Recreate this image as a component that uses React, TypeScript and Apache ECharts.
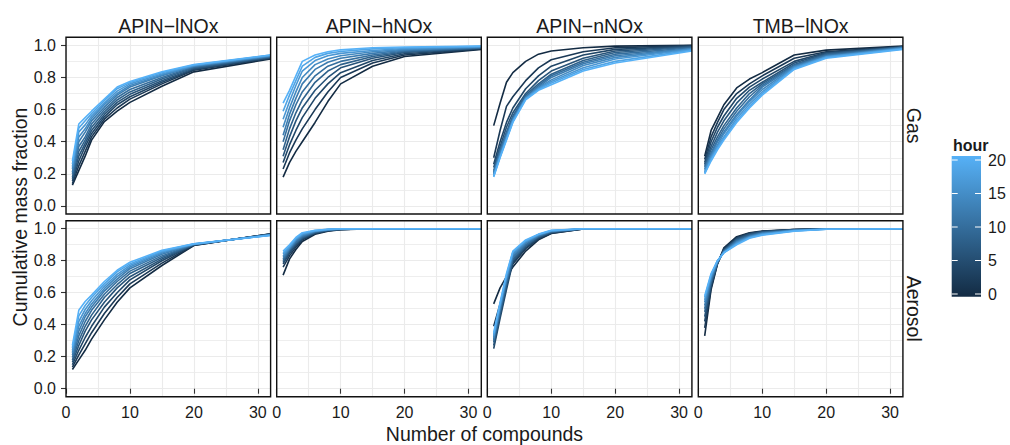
import React, { useEffect, useRef } from 'react';
import * as echarts from 'echarts';

// ---------------- data ----------------
const compounds = [1, 2, 3, 4, 6, 8, 10, 15, 20, 32];
const hours = [0, 2, 4, 6, 8, 10, 12, 14, 16, 18, 20];
const facetCols = ['APIN−lNOx', 'APIN−hNOx', 'APIN−nNOx', 'TMB−lNOx'];
const facetRows = ['Gas', 'Aerosol'];
const xTicks = [0, 10, 20, 30];
const legendTicks = [0, 5, 10, 15, 20];

// rows = hours (0..20 step 2), columns = compounds
const gasApinLNOx = [
  [0.13, 0.22, 0.31, 0.41, 0.525, 0.59, 0.645, 0.745, 0.835, 0.915],
  [0.14, 0.25, 0.34, 0.43, 0.54, 0.61, 0.665, 0.76, 0.845, 0.92],
  [0.155, 0.28, 0.37, 0.45, 0.555, 0.63, 0.68, 0.77, 0.85, 0.922],
  [0.17, 0.31, 0.39, 0.47, 0.57, 0.645, 0.695, 0.78, 0.855, 0.925],
  [0.18, 0.34, 0.41, 0.49, 0.585, 0.66, 0.71, 0.79, 0.86, 0.928],
  [0.2, 0.37, 0.43, 0.51, 0.6, 0.675, 0.725, 0.8, 0.865, 0.93],
  [0.21, 0.4, 0.46, 0.53, 0.615, 0.69, 0.74, 0.81, 0.87, 0.932],
  [0.23, 0.43, 0.48, 0.545, 0.63, 0.7, 0.75, 0.815, 0.872, 0.935],
  [0.245, 0.46, 0.505, 0.56, 0.64, 0.715, 0.76, 0.822, 0.875, 0.937],
  [0.26, 0.485, 0.53, 0.575, 0.655, 0.73, 0.768, 0.83, 0.878, 0.939],
  [0.28, 0.51, 0.55, 0.59, 0.665, 0.74, 0.775, 0.835, 0.88, 0.94],
];
const gasApinHNOx = [
  [0.18, 0.27, 0.34, 0.4, 0.52, 0.65, 0.76, 0.87, 0.93, 0.975],
  [0.23, 0.33, 0.41, 0.48, 0.6, 0.71, 0.8, 0.89, 0.94, 0.978],
  [0.27, 0.38, 0.47, 0.55, 0.67, 0.76, 0.83, 0.905, 0.948, 0.98],
  [0.31, 0.43, 0.53, 0.61, 0.72, 0.8, 0.86, 0.92, 0.955, 0.982],
  [0.35, 0.48, 0.58, 0.66, 0.77, 0.84, 0.88, 0.93, 0.96, 0.984],
  [0.4, 0.53, 0.63, 0.71, 0.81, 0.87, 0.9, 0.94, 0.965, 0.986],
  [0.44, 0.57, 0.67, 0.76, 0.85, 0.895, 0.92, 0.95, 0.97, 0.988],
  [0.49, 0.61, 0.71, 0.8, 0.88, 0.915, 0.935, 0.96, 0.975, 0.99],
  [0.54, 0.65, 0.75, 0.84, 0.905, 0.935, 0.95, 0.968, 0.98, 0.992],
  [0.59, 0.69, 0.78, 0.87, 0.925, 0.95, 0.962, 0.978, 0.985, 0.994],
  [0.64, 0.72, 0.81, 0.9, 0.94, 0.96, 0.972, 0.985, 0.99, 0.995],
];
const gasApinNNOx = [
  [0.5, 0.64, 0.77, 0.83, 0.9, 0.945, 0.965, 0.985, 0.995, 1.0],
  [0.3, 0.47, 0.62, 0.68, 0.78, 0.86, 0.91, 0.96, 0.985, 0.998],
  [0.26, 0.4, 0.52, 0.61, 0.73, 0.81, 0.87, 0.94, 0.975, 0.995],
  [0.24, 0.37, 0.49, 0.58, 0.7, 0.78, 0.84, 0.92, 0.965, 0.993],
  [0.22, 0.35, 0.46, 0.56, 0.69, 0.76, 0.82, 0.905, 0.955, 0.99],
  [0.21, 0.34, 0.45, 0.55, 0.68, 0.75, 0.81, 0.895, 0.945, 0.985],
  [0.2, 0.33, 0.44, 0.54, 0.675, 0.74, 0.8, 0.885, 0.935, 0.98],
  [0.2, 0.32, 0.43, 0.535, 0.67, 0.735, 0.785, 0.875, 0.925, 0.978],
  [0.19, 0.31, 0.42, 0.53, 0.67, 0.73, 0.775, 0.86, 0.915, 0.974],
  [0.185, 0.305, 0.415, 0.525, 0.665, 0.725, 0.765, 0.85, 0.9, 0.97],
  [0.18, 0.3, 0.41, 0.52, 0.66, 0.72, 0.755, 0.84, 0.89, 0.965],
];
const gasTmbLNOx = [
  [0.31, 0.47, 0.55, 0.63, 0.735, 0.79, 0.83, 0.94, 0.97, 0.995],
  [0.29, 0.43, 0.52, 0.6, 0.7, 0.76, 0.81, 0.92, 0.96, 0.993],
  [0.27, 0.4, 0.49, 0.56, 0.67, 0.74, 0.79, 0.9, 0.955, 0.99],
  [0.26, 0.37, 0.46, 0.53, 0.64, 0.72, 0.77, 0.89, 0.95, 0.99],
  [0.25, 0.35, 0.43, 0.5, 0.61, 0.7, 0.76, 0.88, 0.945, 0.988],
  [0.24, 0.33, 0.41, 0.48, 0.59, 0.68, 0.75, 0.875, 0.94, 0.987],
  [0.23, 0.32, 0.4, 0.46, 0.57, 0.66, 0.74, 0.87, 0.935, 0.985],
  [0.22, 0.31, 0.38, 0.45, 0.56, 0.65, 0.725, 0.865, 0.93, 0.983],
  [0.21, 0.3, 0.37, 0.43, 0.545, 0.635, 0.71, 0.86, 0.928, 0.98],
  [0.205, 0.29, 0.36, 0.42, 0.53, 0.62, 0.7, 0.855, 0.925, 0.978],
  [0.2, 0.28, 0.35, 0.41, 0.52, 0.61, 0.69, 0.85, 0.92, 0.975],
];
const aerApinLNOx = [
  [0.12, 0.18, 0.24, 0.31, 0.43, 0.54, 0.63, 0.77, 0.895, 0.968],
  [0.135, 0.21, 0.28, 0.35, 0.47, 0.57, 0.655, 0.785, 0.897, 0.967],
  [0.15, 0.24, 0.32, 0.39, 0.51, 0.6, 0.68, 0.8, 0.899, 0.966],
  [0.165, 0.27, 0.36, 0.43, 0.54, 0.63, 0.7, 0.81, 0.9, 0.965],
  [0.18, 0.3, 0.39, 0.46, 0.57, 0.65, 0.72, 0.82, 0.901, 0.964],
  [0.195, 0.33, 0.42, 0.49, 0.59, 0.67, 0.735, 0.83, 0.902, 0.963],
  [0.21, 0.36, 0.45, 0.51, 0.61, 0.685, 0.75, 0.84, 0.903, 0.962],
  [0.225, 0.39, 0.47, 0.53, 0.625, 0.7, 0.76, 0.848, 0.903, 0.961],
  [0.24, 0.42, 0.495, 0.55, 0.64, 0.715, 0.77, 0.855, 0.904, 0.96],
  [0.255, 0.455, 0.52, 0.57, 0.655, 0.73, 0.78, 0.86, 0.905, 0.959],
  [0.27, 0.49, 0.545, 0.585, 0.67, 0.74, 0.79, 0.865, 0.905, 0.958],
];
const aerApinHNOx = [
  [0.71, 0.81, 0.87, 0.92, 0.965, 0.985, 0.993, 1.0, 1.0, 1.0],
  [0.76, 0.83, 0.885, 0.93, 0.97, 0.987, 0.995, 1.0, 1.0, 1.0],
  [0.78, 0.845, 0.895, 0.935, 0.972, 0.988, 0.995, 1.0, 1.0, 1.0],
  [0.79, 0.855, 0.905, 0.94, 0.975, 0.99, 0.996, 1.0, 1.0, 1.0],
  [0.8, 0.865, 0.91, 0.945, 0.978, 0.991, 0.997, 1.0, 1.0, 1.0],
  [0.81, 0.87, 0.915, 0.95, 0.98, 0.992, 0.997, 1.0, 1.0, 1.0],
  [0.82, 0.875, 0.925, 0.955, 0.982, 0.993, 0.998, 1.0, 1.0, 1.0],
  [0.83, 0.88, 0.93, 0.96, 0.984, 0.994, 0.998, 1.0, 1.0, 1.0],
  [0.84, 0.885, 0.935, 0.965, 0.986, 0.995, 0.999, 1.0, 1.0, 1.0],
  [0.85, 0.89, 0.94, 0.97, 0.988, 0.996, 0.999, 1.0, 1.0, 1.0],
  [0.86, 0.9, 0.945, 0.975, 0.99, 0.997, 1.0, 1.0, 1.0, 1.0],
];
const aerApinNNOx = [
  [0.53, 0.63, 0.7, 0.76, 0.86, 0.93, 0.97, 0.998, 1.0, 1.0],
  [0.39, 0.53, 0.66, 0.78, 0.875, 0.935, 0.972, 0.998, 1.0, 1.0],
  [0.25, 0.44, 0.62, 0.79, 0.88, 0.94, 0.975, 0.999, 1.0, 1.0],
  [0.27, 0.46, 0.64, 0.8, 0.89, 0.945, 0.978, 1.0, 1.0, 1.0],
  [0.29, 0.48, 0.66, 0.81, 0.895, 0.95, 0.98, 1.0, 1.0, 1.0],
  [0.3, 0.49, 0.67, 0.82, 0.9, 0.953, 0.982, 1.0, 1.0, 1.0],
  [0.31, 0.5, 0.68, 0.83, 0.91, 0.956, 0.984, 1.0, 1.0, 1.0],
  [0.32, 0.51, 0.69, 0.84, 0.915, 0.96, 0.986, 1.0, 1.0, 1.0],
  [0.33, 0.52, 0.7, 0.85, 0.92, 0.962, 0.987, 1.0, 1.0, 1.0],
  [0.34, 0.53, 0.71, 0.855, 0.925, 0.964, 0.988, 1.0, 1.0, 1.0],
  [0.35, 0.54, 0.72, 0.86, 0.93, 0.966, 0.99, 1.0, 1.0, 1.0],
];
const aerTmbLNOx = [
  [0.33, 0.62, 0.78, 0.88, 0.95, 0.975, 0.985, 0.995, 1.0, 1.0],
  [0.38, 0.63, 0.78, 0.875, 0.945, 0.972, 0.983, 0.995, 1.0, 1.0],
  [0.42, 0.645, 0.785, 0.87, 0.94, 0.97, 0.982, 0.994, 0.999, 1.0],
  [0.45, 0.655, 0.785, 0.865, 0.935, 0.965, 0.98, 0.993, 0.999, 1.0],
  [0.48, 0.665, 0.79, 0.86, 0.93, 0.96, 0.977, 0.992, 0.998, 1.0],
  [0.5, 0.675, 0.79, 0.86, 0.925, 0.955, 0.975, 0.991, 0.998, 1.0],
  [0.52, 0.685, 0.795, 0.855, 0.92, 0.952, 0.972, 0.99, 0.998, 1.0],
  [0.54, 0.695, 0.795, 0.855, 0.915, 0.95, 0.97, 0.989, 0.998, 1.0],
  [0.555, 0.705, 0.8, 0.85, 0.91, 0.946, 0.966, 0.988, 0.997, 1.0],
  [0.57, 0.712, 0.8, 0.85, 0.905, 0.943, 0.963, 0.986, 0.997, 1.0],
  [0.58, 0.72, 0.8, 0.85, 0.9, 0.94, 0.96, 0.985, 0.997, 1.0],
];

const panels = [
  gasApinLNOx, gasApinHNOx, gasApinNNOx, gasTmbLNOx,
  aerApinLNOx, aerApinHNOx, aerApinNNOx, aerTmbLNOx,
];

// ---------------- layout / style ----------------
const FONT = '"Liberation Sans", Arial, Helvetica, sans-serif';
const TXT = '#1a1a1a';
const LOW = '#132B43';
const HIGH = '#56B1F7';
const COL_LEFT = [66, 276.7, 487.3, 698.3];
const COL_W = 204.6;
const ROW_TOP = [37.3, 220.7];
const ROW_H = [176.7, 176];
const PAD = 0.05 / 1.1;
const GRID_COLOR = '#EBEBEB';

const hourColor = (h: number) => echarts.color.lerp(h / 20, [LOW, HIGH]) as string;

export default function App() {
  const ref = useRef<HTMLDivElement>(null);

  useEffect(() => {
    if (!ref.current) return;
    const chart = echarts.init(ref.current, undefined, { renderer: 'svg' });

    const grids: any[] = [];
    const xAxes: any[] = [];
    const yAxes: any[] = [];
    const series: any[] = [];
    const graphics: any[] = [];

    // inner grids (data range 0..1) : index 0..7
    for (let p = 0; p < 8; p++) {
      const r = Math.floor(p / 4);
      const c = p % 4;
      const padPx = ROW_H[r] * PAD;
      grids.push({
        left: COL_LEFT[c],
        top: ROW_TOP[r] + padPx,
        width: COL_W,
        height: ROW_H[r] / 1.1,
        containLabel: false,
      });
      const bottom = r === 1;
      xAxes.push({
        gridIndex: p,
        type: 'value',
        min: 0,
        max: 32,
        interval: 10,
        position: 'bottom',
        offset: bottom ? padPx : 0,
        axisLine: { show: false },
        splitLine: { show: false },
        axisTick: {
          show: bottom,
          customValues: xTicks,
          length: 5,
          lineStyle: { color: '#333', width: 1.1 },
        },
        axisLabel: {
          show: bottom,
          customValues: xTicks,
          margin: 8,
          fontSize: 16,
          color: TXT,
          fontFamily: FONT,
          formatter: (v: number) => (v % 10 === 0 ? String(v) : ''),
        },
      });
      yAxes.push({
        gridIndex: p,
        type: 'value',
        min: 0,
        max: 1,
        interval: 0.2,
        axisLine: { show: false },
        splitLine: { show: true, lineStyle: { color: GRID_COLOR, width: 1.2 } },
        minorTick: { show: false, splitNumber: 2 },
        minorSplitLine: { show: true, lineStyle: { color: '#EEEEEE', width: 1 } },
        axisTick: {
          show: c === 0,
          length: 5,
          lineStyle: { color: '#333', width: 1.1 },
        },
        axisLabel: {
          show: c === 0,
          margin: 10,
          fontSize: 16,
          color: TXT,
          fontFamily: FONT,
          formatter: (v: number) => v.toFixed(1),
        },
      });
    }
    // full panel grids for vertical grid lines : index 8..15
    for (let p = 0; p < 8; p++) {
      const r = Math.floor(p / 4);
      const c = p % 4;
      grids.push({ left: COL_LEFT[c], top: ROW_TOP[r], width: COL_W, height: ROW_H[r] });
      xAxes.push({
        gridIndex: 8 + p,
        type: 'value',
        min: 0,
        max: 32,
        interval: 5,
        axisLine: { show: false },
        axisTick: { show: false },
        axisLabel: { show: false },
        splitLine: { show: true, lineStyle: { color: GRID_COLOR, width: 1.1 } },
      });
      yAxes.push({
        gridIndex: 8 + p,
        type: 'value',
        min: 0,
        max: 1,
        show: false,
        splitLine: { show: false },
      });
      // panel border
      graphics.push({
        type: 'rect',
        z: 100,
        silent: true,
        shape: { x: COL_LEFT[c], y: ROW_TOP[r], width: COL_W, height: ROW_H[r] },
        style: { fill: 'none', stroke: '#111', lineWidth: 1.4 },
      });
    }

    // data series
    panels.forEach((table, p) => {
      table.forEach((row, k) => {
        series.push({
          type: 'line',
          xAxisIndex: p,
          yAxisIndex: p,
          data: compounds.map((x, i) => [x, row[i]]),
          symbol: 'none',
          showSymbol: false,
          clip: false,
          silent: true,
          lineStyle: { color: hourColor(hours[k]), width: 1.6 },
          emphasis: { disabled: true },
        });
      });
    });

    const txt = (text: string, x: number, y: number, size: number, extra: any = {}) => ({
      type: 'text',
      x,
      y,
      z: 100,
      silent: true,
      rotation: extra.rotation || 0,
      style: {
        text,
        fill: TXT,
        font: `${extra.bold ? 'bold ' : ''}${size}px ${FONT}`,
        textAlign: extra.align || 'center',
        textVerticalAlign: 'middle',
        align: extra.align || 'center',
        verticalAlign: 'middle',
      },
    });

    // strip labels
    facetCols.forEach((name, c) => {
      graphics.push(txt(name, COL_LEFT[c] + COL_W / 2, 25.5, 19.5));
    });
    facetRows.forEach((name, r) => {
      graphics.push(
        txt(name, 914, ROW_TOP[r] + ROW_H[r] / 2, 19.5, { rotation: -Math.PI / 2 })
      );
    });
    // axis titles
    graphics.push(txt('Number of compounds', (COL_LEFT[0] + COL_LEFT[3] + COL_W) / 2, 434, 19.5));
    graphics.push(
      txt('Cumulative mass fraction', 20, (ROW_TOP[0] + ROW_TOP[1] + ROW_H[1]) / 2, 19.5, {
        rotation: Math.PI / 2,
      })
    );

    // colour bar legend
    const barX = 951.7;
    const barW = 29.3;
    const barTop = 156;
    const barH = 140.7;
    const y0 = 294; // hour 0
    const y20 = 160; // hour 20
    graphics.push(txt('hour', 953, 145, 16, { bold: true, align: 'left' }));
    graphics.push({
      type: 'rect',
      z: 90,
      silent: true,
      shape: { x: barX, y: barTop, width: barW, height: barH },
      style: {
        fill: new echarts.graphic.LinearGradient(0, 0, 0, 1, [
          { offset: 0, color: HIGH },
          { offset: 1, color: LOW },
        ]),
      },
    });
    legendTicks.forEach((h) => {
      const y = y0 + ((y20 - y0) * h) / 20;
      graphics.push({
        type: 'line',
        z: 95,
        silent: true,
        shape: { x1: barX, y1: y, x2: barX + 6, y2: y },
        style: { stroke: '#fff', lineWidth: 1 },
      });
      graphics.push({
        type: 'line',
        z: 95,
        silent: true,
        shape: { x1: barX + barW - 6, y1: y, x2: barX + barW, y2: y },
        style: { stroke: '#fff', lineWidth: 1 },
      });
      graphics.push(txt(String(h), 988, y, 16, { align: 'left' }));
    });

    chart.setOption({
      animation: false,
      backgroundColor: '#ffffff',
      grid: grids,
      xAxis: xAxes,
      yAxis: yAxes,
      series,
      graphic: graphics,
    });

    return () => chart.dispose();
  }, []);

  return (
    <div
      ref={ref}
      style={{ position: 'fixed', left: 0, top: 0, width: 1010, height: 445, background: '#fff' }}
    />
  );
}
